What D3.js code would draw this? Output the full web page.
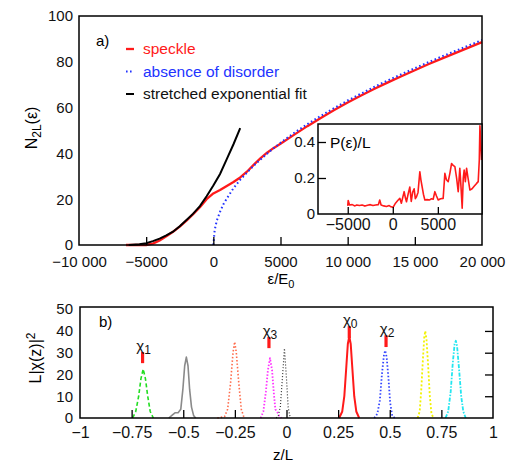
<!DOCTYPE html>
<html>
<head>
<meta charset="utf-8">
<script src="https://cdn.jsdelivr.net/npm/d3@7"></script>
<style>
  html, body { margin: 0; padding: 0; background: #fff; }
  svg { display: block; font-family: "Liberation Sans", Arial, sans-serif; }
</style>
</head>
<body>
<svg id="chart" width="508" height="465"></svg>
<script>
// ---- panel a) : integrated density of states N_2L(eps) ----
const speckleEps = [-6500, -5000, -4500, -4000, -3500, -3000, -2500, -2000, -1500, -1000, -500, 0, 500, 1000, 1500, 2000, 2500, 3000, 3500, 4000, 4500, 5000, 6000, 7000, 8000, 9000, 10000, 11000, 12000, 13000, 14000, 15000, 16000, 17000, 18000, 19000, 20000];
const speckleN   = [0, 0, 0.6, 2, 3.8, 5.8, 8, 10.6, 13.5, 16.5, 20, 22.5, 24, 25.8, 27.5, 29.5, 32, 35, 37.8, 40.3, 42.4, 44.2, 48.1, 51.9, 55.5, 58.9, 62.2, 65.3, 68.2, 71, 73.7, 76.3, 78.9, 81.4, 83.8, 86.2, 88.6];

const cleanEps = [0, 100, 250, 500, 750, 1000, 1500, 2000, 2500, 3000, 3500, 4000, 4500, 5000, 6000, 7000, 8000, 9000, 10000, 11000, 12000, 13000, 14000, 15000, 16000, 17000, 18000, 19000, 20000];
const cleanN   = [0, 6.5, 10.5, 14.5, 17.8, 20.3, 24.8, 28.5, 31.6, 34.6, 37.3, 39.9, 42.3, 44.6, 48.9, 52.8, 56.4, 59.8, 63.1, 66.1, 69.1, 71.9, 74.6, 77.2, 79.8, 82.3, 84.7, 87.1, 89.5];

const fitEps = [-6300, -5500, -5000, -4500, -4000, -3500, -3000, -2500, -2000, -1500, -1000, -500, 0, 500, 1000, 1500, 2000];
const fitN   = [0, 0.3, 0.8, 1.7, 2.8, 4.2, 5.8, 8.2, 10.9, 13.7, 17, 21.3, 26, 31, 37.5, 44, 51];

const xTicksA = [-10000, -5000, 0, 5000, 10000, 15000, 20000];
const xTickLabelsA = ["\u221210 000", "\u22125000", "0", "5000", "10 000", "15 000", "20 000"];
const yTicksA = [0, 20, 40, 60, 80, 100];

// inset: P(eps)/L
const pEps = [-5000, -4950, -4800, -4500, -4200, -4000, -3700, -3400, -3100, -2800, -2500, -2200, -1900, -1600, -1450, -1300, -1000, -700, -400, -200, 30, 300, 550, 780, 950, 1260, 1400, 1520, 1700, 1890, 2050, 2200, 2370, 2500, 2630, 2800, 3000, 3120, 3260, 3400, 3560, 3800, 4100, 4300, 4480, 4670, 4850, 5040, 5300, 5590, 5780, 5950, 6150, 6350, 6520, 6700, 6890, 7080, 7260, 7440, 7570, 7700, 7820, 7920, 8050, 8190, 8350, 8560, 8800, 9050, 9300, 9480, 9600, 9670, 9850];
const pVal = [0.045, 0.075, 0.05, 0.052, 0.045, 0.05, 0.047, 0.05, 0.044, 0.049, 0.052, 0.047, 0.05, 0.052, 0.078, 0.05, 0.045, 0.042, 0.047, 0.04, 0.037, 0.06, 0.075, 0.087, 0.06, 0.124, 0.09, 0.068, 0.11, 0.15, 0.07, 0.12, 0.14, 0.085, 0.096, 0.12, 0.235, 0.19, 0.15, 0.11, 0.078, 0.08, 0.078, 0.085, 0.082, 0.124, 0.1, 0.078, 0.085, 0.087, 0.226, 0.19, 0.18, 0.23, 0.28, 0.27, 0.263, 0.2, 0.124, 0.254, 0.15, 0.032, 0.2, 0.244, 0.18, 0.254, 0.2, 0.133, 0.14, 0.155, 0.17, 0.18, 0.3, 0.49, 0.3];

const xTicksInset = [-5000, 0, 5000];
const xTickLabelsInset = ["\u22125000", "0", "5000"];
const yTicksInset = [0, 0.2, 0.4];
const yTickLabelsInset = ["0", "0.2", "0.4"];

// ---- panel b) : eigenfunction densities L|chi(z)|^2 ----
const peakGreen   = [[-0.745, 0], [-0.73, 3], [-0.716, 10], [-0.705, 18], [-0.694, 22.5], [-0.683, 18], [-0.672, 10], [-0.66, 3], [-0.645, 0]];
const peakGray    = [[-0.57, 0], [-0.555, 1.2], [-0.54, 2.4], [-0.525, 2.4], [-0.512, 4], [-0.502, 13], [-0.493, 24], [-0.485, 28], [-0.477, 24], [-0.469, 13], [-0.46, 5], [-0.45, 1.2], [-0.44, 0]];
const peakOrange  = [[-0.335, 0], [-0.3, 0.6], [-0.285, 4], [-0.271, 16], [-0.259, 30], [-0.251, 35], [-0.243, 30], [-0.231, 16], [-0.219, 4], [-0.205, 0]];
const peakMagenta = [[-0.125, 0], [-0.112, 3], [-0.1, 12], [-0.09, 22], [-0.08, 27.5], [-0.07, 22], [-0.061, 11], [-0.054, 4], [-0.046, 3], [-0.035, 1], [-0.025, 0]];
const peakBlackDot = [[-0.05, 0], [-0.04, 1], [-0.03, 5], [-0.02, 18], [-0.01, 32], [0, 18], [0.008, 5], [0.018, 0]];
const peakRed     = [[0.255, 0], [0.27, 3], [0.28, 10], [0.29, 24], [0.297, 34], [0.304, 37.5], [0.311, 34], [0.318, 24], [0.328, 10], [0.338, 3], [0.352, 0]];
const peakBlue    = [[0.425, 0], [0.44, 2], [0.452, 8], [0.462, 20], [0.472, 29], [0.478, 31], [0.485, 28], [0.494, 18], [0.502, 7], [0.512, 1], [0.525, 0]];
const peakYellow  = [[0.635, 0], [0.645, 3], [0.652, 12], [0.66, 26], [0.667, 37], [0.672, 40], [0.678, 36], [0.686, 24], [0.694, 10], [0.702, 2], [0.712, 0]];
const peakCyan    = [[0.77, 0], [0.783, 3], [0.795, 12], [0.805, 25], [0.814, 34], [0.82, 35.5], [0.826, 33], [0.836, 22], [0.846, 10], [0.856, 3], [0.868, 0]];

const xTicksB = [-1, -0.75, -0.5, -0.25, 0, 0.25, 0.5, 0.75, 1];
const xTickLabelsB = ["\u22121", "\u22120.75", "\u22120.5", "\u22120.25", "0", "0.25", "0.5", "0.75", "1"];
const yTicksB = [0, 10, 20, 30, 40, 50];

// state labels: subscript, z position, marker top / bottom in L|chi|^2 units
const stateNames  = ["1", "3", "0", "2"];
const stateZ      = [-0.697, -0.085, 0.304, 0.482];
const stateTop    = [30.3, 37.2, 42.2, 38.0];
const stateBottom = [25.2, 32.1, 36.7, 32.6];

// ------------------------------------------------------------------
const svg = d3.select("#chart");

function styleAxis(fs) {
  return g => {
    g.select(".domain").remove();
    g.selectAll(".tick line").attr("stroke", "#000").attr("stroke-width", 1.3);
    g.selectAll(".tick text").attr("font-size", fs).attr("fill", "#111")
      .attr("font-family", "'Liberation Sans', Arial, sans-serif");
  };
}

// ---------------- panel a) ----------------
const xA = d3.scaleLinear().domain([-10000, 20000]).range([79, 482]);
const yA = d3.scaleLinear().domain([0, 100]).range([245, 16]);

const gA = svg.append("g");

const lineA = (xs, ys) => d3.line().x((d, i) => xA(xs[i])).y((d, i) => yA(ys[i]))(xs);

gA.append("path").attr("d", lineA(speckleEps, speckleN))
  .attr("fill", "none").attr("stroke", "#ff1a1a").attr("stroke-width", 2.3).attr("stroke-linejoin", "round");
gA.append("path").attr("d", lineA(cleanEps, cleanN))
  .attr("fill", "none").attr("stroke", "#2233ff").attr("stroke-width", 2)
  .attr("stroke-dasharray", "1.6,2.6");
gA.append("path").attr("d", lineA(fitEps, fitN))
  .attr("fill", "none").attr("stroke", "#000").attr("stroke-width", 2);

gA.append("g").attr("transform", `translate(0,${yA(0)})`)
  .call(d3.axisBottom(xA).tickValues(xTicksA).tickFormat((d, i) => xTickLabelsA[i])
    .tickSizeInner(-8).tickSizeOuter(0).tickPadding(11.5))
  .call(styleAxis(15))
  .call(g => g.selectAll(".tick").filter(d => d === -10000 || d === 20000).select("line").remove());

gA.append("g").attr("transform", `translate(${xA(-10000)},0)`)
  .call(d3.axisLeft(yA).tickValues(yTicksA).tickSize(0).tickPadding(6))
  .call(styleAxis(15));

gA.append("rect").attr("x", xA(-10000)).attr("y", yA(100))
  .attr("width", xA(20000) - xA(-10000)).attr("height", yA(0) - yA(100))
  .attr("fill", "none").attr("stroke", "#000").attr("stroke-width", 1.5);

// panel label and legend
gA.append("text").attr("x", 96).attr("y", 46).attr("font-size", 15).text("a)");
const legend = [
  { label: "speckle", color: "#ff1a1a", dash: null, w: 2.3 },
  { label: "absence of disorder", color: "#2233ff", dash: "1.6,2.4", w: 2 },
  { label: "stretched exponential fit", color: "#000", dash: null, w: 2 }
];
legend.forEach((d, i) => {
  const yy = 54 + i * 22.5;
  gA.append("line").attr("x1", 126).attr("x2", 134).attr("y1", yy - 5).attr("y2", yy - 5)
    .attr("stroke", d.color).attr("stroke-width", d.w).attr("stroke-dasharray", d.dash);
  gA.append("text").attr("x", 143).attr("y", yy).attr("font-size", 15.5)
    .attr("fill", d.color === "#000" ? "#111" : d.color).text(d.label);
});

// axis titles
gA.append("text").attr("x", 281).attr("y", 284).attr("text-anchor", "middle").attr("font-size", 15)
  .html('\u03b5/E<tspan font-size="11" dy="4">0</tspan>');
gA.append("text").attr("transform", "translate(37,128) rotate(-90)").attr("text-anchor", "middle").attr("font-size", 16)
  .html('N<tspan font-size="12" dy="4">2L</tspan><tspan dy="-4">(\u03b5)</tspan>');

// ---------------- inset ----------------
const xI = d3.scaleLinear().domain([-8300, 9900]).range([318, 482]);
const yI = d3.scaleLinear().domain([0, 0.5]).range([214, 124]);
const gI = svg.append("g");
gI.append("rect").attr("x", 318).attr("y", 124).attr("width", 164).attr("height", 90)
  .attr("fill", "#fff").attr("stroke", "none");
gI.append("path")
  .attr("d", d3.line().x((d, i) => xI(pEps[i])).y((d, i) => yI(pVal[i]))(pEps))
  .attr("fill", "none").attr("stroke", "#ff1a1a").attr("stroke-width", 1.6).attr("stroke-linejoin", "round");
gI.append("g").attr("transform", `translate(0,${yI(0)})`)
  .call(d3.axisBottom(xI).tickValues(xTicksInset).tickFormat((d, i) => xTickLabelsInset[i])
    .tickSizeInner(-7).tickSizeOuter(0).tickPadding(5))
  .call(styleAxis(16));
gI.append("g").attr("transform", `translate(318,0)`)
  .call(d3.axisLeft(yI).tickValues(yTicksInset).tickFormat((d, i) => yTickLabelsInset[i])
    .tickSizeInner(-8).tickSizeOuter(0).tickPadding(3))
  .call(styleAxis(15))
  .call(g => g.selectAll(".tick").filter(d => d === 0).select("line").remove());
gI.append("rect").attr("x", 318).attr("y", 124).attr("width", 164).attr("height", 90)
  .attr("fill", "none").attr("stroke", "#000").attr("stroke-width", 1.5);
gI.append("text").attr("x", 330).attr("y", 148).attr("font-size", 15.5).text("P(\u03b5)/L");

// ---------------- panel b) ----------------
const xB = d3.scaleLinear().domain([-1, 1]).range([80, 493]);
const yB = d3.scaleLinear().domain([0, 51]).range([418, 307]);
const gB = svg.append("g");

const peaks = [
  { data: peakGreen,    color: "#22dd22", dash: "4,2.5",   w: 1.6 },
  { data: peakGray,     color: "#8a8a8a", dash: null,      w: 1.6 },
  { data: peakOrange,   color: "#ff6a4a", dash: "1.5,2",   w: 1.6 },
  { data: peakMagenta,  color: "#ff33ff", dash: "1.5,1.8", w: 1.8 },
  { data: peakBlackDot, color: "#333",    dash: "1,2",     w: 1.2 },
  { data: peakRed,      color: "#ff1a1a", dash: null,      w: 2 },
  { data: peakBlue,     color: "#3344ff", dash: "1.5,2",   w: 1.8 },
  { data: peakYellow,   color: "#f2f200", dash: "2,2",     w: 1.8 },
  { data: peakCyan,     color: "#22e6f0", dash: "4,1.5,1.5,1.5", w: 1.8 }
];
const lineB = d3.line().x(d => xB(d[0])).y(d => yB(d[1]));
peaks.forEach(p => {
  gB.append("path").attr("d", lineB(p.data)).attr("fill", "none")
    .attr("stroke", p.color).attr("stroke-width", p.w).attr("stroke-dasharray", p.dash)
    .attr("stroke-linejoin", "round");
});

gB.append("g").attr("transform", `translate(0,${yB(0)})`)
  .call(d3.axisBottom(xB).tickValues(xTicksB).tickFormat((d, i) => xTickLabelsB[i])
    .tickSizeInner(-8).tickSizeOuter(0).tickPadding(9))
  .call(styleAxis(16))
  .call(g => g.selectAll(".tick").filter(d => d === -1 || d === 1).select("line").remove());
gB.append("g").attr("transform", `translate(${xB(-1)},0)`)
  .call(d3.axisLeft(yB).tickValues(yTicksB).tickSize(0).tickPadding(7))
  .call(styleAxis(15));
gB.append("g").attr("transform", `translate(${xB(1)},0)`)
  .call(d3.axisRight(yB).tickValues(yTicksB.filter(v => v > 0 && v < 50)).tickSize(-8).tickFormat(""))
  .call(styleAxis(15));

gB.append("rect").attr("x", xB(-1)).attr("y", yB(51))
  .attr("width", xB(1) - xB(-1)).attr("height", yB(0) - yB(51))
  .attr("fill", "none").attr("stroke", "#000").attr("stroke-width", 1.5);

gB.append("text").attr("x", 99).attr("y", 327).attr("font-size", 15).text("b)");

// state markers and labels
stateNames.forEach((s, i) => {
  const xx = xB(stateZ[i]);
  gB.append("line").attr("x1", xx).attr("x2", xx)
    .attr("y1", yB(stateTop[i])).attr("y2", yB(stateBottom[i]))
    .attr("stroke", "#ff1a1a").attr("stroke-width", 3.2);
  gB.append("text").attr("x", xx + 1).attr("y", yB(stateTop[i]) - 1)
    .attr("text-anchor", "middle").attr("font-size", 15).attr("fill", "#111")
    .html(`\u03c7<tspan font-size="12" dy="3">${s}</tspan>`);
});

// axis titles
gB.append("text").attr("x", 283).attr("y", 460).attr("text-anchor", "middle").attr("font-size", 15).text("z/L");
gB.append("text").attr("transform", "translate(41,358) rotate(-90)").attr("text-anchor", "middle").attr("font-size", 16)
  .html('L|\u03c7(z)|<tspan font-size="12" dy="-6">2</tspan>');
</script>
</body>
</html>
